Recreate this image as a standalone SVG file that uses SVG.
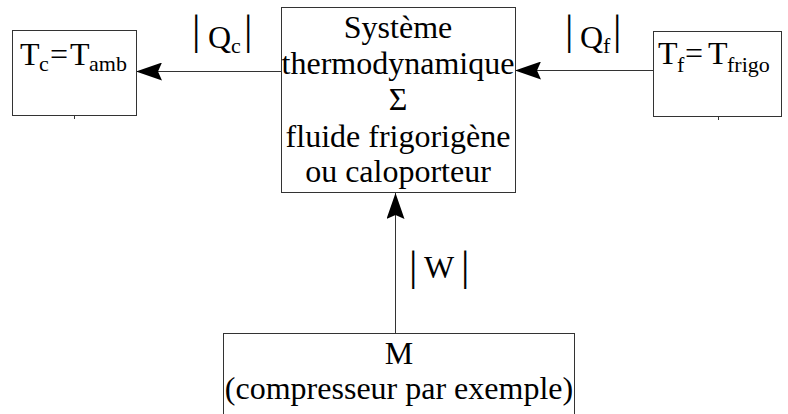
<svg xmlns="http://www.w3.org/2000/svg" width="788" height="414" viewBox="0 0 788 414">
<style>
.box{fill:#fff;stroke:#333;stroke-width:1}
text{font-family:'Liberation Serif','Times New Roman',Times,serif;font-size:32px;fill:#000}
text.s{font-size:22px}
text.c{text-anchor:middle}
text.bar{font-size:42px}
.con{stroke:#333;stroke-width:1;fill:none;marker-end:url(#ah)}
</style>
<defs>
<marker id="ah" markerUnits="userSpaceOnUse" markerWidth="26" markerHeight="18" viewBox="0 -9 26 18" refX="26" refY="0" orient="auto">
<path d="M0,-9 L26,0 L0,9 L4,0 Z" fill="#000"/>
</marker>
</defs>
<rect width="788" height="414" fill="#fff"/>
<g id="connectors" font-family="Liberation Serif, serif">
<line class="con" x1="281" y1="71.5" x2="136" y2="71.5"/>
<line class="con" x1="653" y1="70.5" x2="515" y2="70.5"/>
<line class="con" x1="395.5" y1="333" x2="395.5" y2="193"/>
<g id="label-Qc">
<text class="bar" x="192" y="44">|</text>
<text x="208" y="48">Q</text>
<text class="s" x="231" y="53">c</text>
<text class="bar" x="244" y="44">|</text>
</g>
<g id="label-Qf">
<text class="bar" x="565" y="44">|</text>
<text x="580" y="48">Q</text>
<text class="s" x="603" y="53">f</text>
<text class="bar" x="613" y="44">|</text>
</g>
<g id="label-W">
<text class="bar" x="409" y="280">|</text>
<text x="424" y="278">W</text>
<text class="bar" x="461" y="280">|</text>
</g>
</g>
<g id="node-Tc">
<rect class="box" x="12.5" y="30.5" width="124" height="85"/>
<line x1="74.5" y1="115" x2="74.5" y2="119" stroke="#333"/>
<text x="20" y="65">T</text>
<text class="s" x="39" y="71">c</text>
<text x="50" y="65">=</text>
<text x="70" y="65">T</text>
<text class="s" x="89" y="71">amb</text>
</g>
<g id="node-Tf">
<rect class="box" x="653.5" y="31.5" width="128" height="85"/>
<line x1="718.5" y1="116" x2="718.5" y2="120" stroke="#333"/>
<text x="658" y="64">T</text>
<text class="s" x="677" y="72">f</text>
<text x="685" y="64">=</text>
<text x="708" y="64">T</text>
<text class="s" x="727" y="72">frigo</text>
</g>
<g id="node-systeme">
<rect class="box" x="281.5" y="7.5" width="234" height="185"/>
<text class="c" x="398" y="38">Système</text>
<text class="c" x="398" y="74">thermodynamique</text>
<text class="c" x="398" y="110">Σ</text>
<text class="c" x="398" y="147">fluide frigorigène</text>
<text class="c" x="398" y="182">ou caloporteur</text>
</g>
<g id="node-M">
<rect class="box" x="223.5" y="333.5" width="351" height="90"/>
<text class="c" x="399" y="364">M</text>
<text class="c" x="399" y="399">(compresseur par exemple)</text>
</g>
</svg>
